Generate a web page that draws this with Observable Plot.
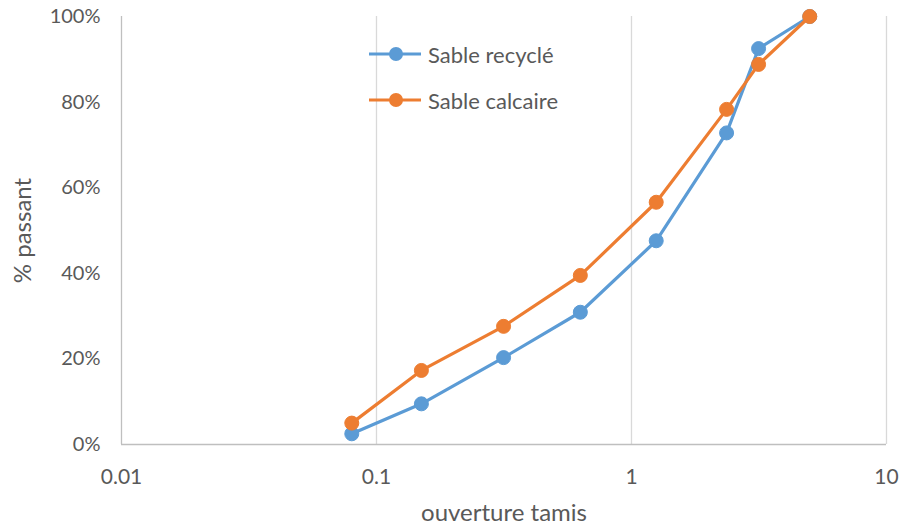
<!DOCTYPE html>
<html>
<head>
<meta charset="utf-8">
<script src="https://cdn.jsdelivr.net/npm/d3@7"></script>
<script src="https://cdn.jsdelivr.net/npm/@observablehq/plot@0.6"></script>
<style>
  html, body { margin: 0; padding: 0; background: #fff; }
  #wrap { position: relative; width: 901px; height: 527px; font-family: Lato, "Open Sans", sans-serif; }
  #legend { position: absolute; left: 368px; top: 31px; font-size: 22px; color: #595959; }
  .item { display: flex; align-items: center; height: 46px; }
  .item svg { margin-right: 6px; }
</style>
</head>
<body>
<div id="wrap"><div id="legend"></div></div>
<script>
const sieves = [0.08, 0.15, 0.315, 0.63, 1.25, 2.36, 3.15, 5];
const sableRecycle = [0.025, 0.095, 0.203, 0.309, 0.476, 0.728, 0.925, 1.0];
const sableCalcaire = [0.050, 0.173, 0.276, 0.395, 0.566, 0.783, 0.888, 1.0];
const seriesNames = ["Sable recyclé", "Sable calcaire"];
const colors = ["#5B9BD5", "#ED7D31"];
const xTicks = [0.01, 0.1, 1, 10];
const xTickLabels = ["0.01", "0.1", "1", "10"];
const yTicks = [0, 0.2, 0.4, 0.6, 0.8, 1.0];

const data = [
  ...sieves.map((s, i) => ({x: s, y: sableRecycle[i], serie: seriesNames[0]})),
  ...sieves.map((s, i) => ({x: s, y: sableCalcaire[i], serie: seriesNames[1]}))
];
const s1 = data.filter(d => d.serie === seriesNames[0]);
const s2 = data.filter(d => d.serie === seriesNames[1]);

const chart = Plot.plot({
  width: 901,
  height: 527,
  marginLeft: 121,
  marginRight: 15,
  marginTop: 16,
  marginBottom: 83,
  style: {fontFamily: "Lato, 'Open Sans', sans-serif", fontSize: "20px", color: "#595959", background: "#fff"},
  x: {type: "log", domain: [0.01, 10]},
  y: {domain: [0, 1]},
  marks: [
    Plot.gridX(xTicks.slice(1), {stroke: "#d9d9d9", strokeOpacity: 1, strokeWidth: 1.3}),
    Plot.ruleX([0.01], {stroke: "#bfbfbf", strokeWidth: 1.3}),
    Plot.ruleY([0], {stroke: "#bfbfbf", strokeWidth: 1.3}),
    Plot.axisX(xTicks, {tickSize: 0, tickPadding: 25, tickFormat: d => xTickLabels[xTicks.indexOf(d)], fontSize: 21, fill: "#595959",
      label: "ouverture tamis", labelAnchor: "center", labelArrow: "none", labelOffset: 76}),
    Plot.axisY(yTicks, {tickSize: 0, tickPadding: 21, tickFormat: d => Math.round(d * 100) + "%", fontSize: 20, fill: "#595959",
      label: "% passant", labelAnchor: "center", labelArrow: "none", labelOffset: 108}),
    Plot.line(s1, {x: "x", y: "y", stroke: colors[0], strokeWidth: 3.2}),
    Plot.dot(s1, {x: "x", y: "y", r: 7, fill: colors[0], stroke: colors[0], strokeWidth: 1}),
    Plot.line(s2, {x: "x", y: "y", stroke: colors[1], strokeWidth: 3.2}),
    Plot.dot(s2, {x: "x", y: "y", r: 7, fill: colors[1], stroke: colors[1], strokeWidth: 1})
  ]
});
chart.querySelectorAll("[aria-label='x-axis label'] text, [aria-label='y-axis label'] text, [aria-label='x-axis label'], [aria-label='y-axis label']").forEach(t => {
  t.setAttribute("font-size", "24");
  t.style.fontSize = "24px";
});
document.getElementById("wrap").prepend(chart);

const legend = document.getElementById("legend");
seriesNames.forEach((name, i) => {
  const item = document.createElement("div");
  item.className = "item";
  item.innerHTML = `<svg width="54" height="16"><line x1="1" x2="53" y1="8" y2="8" stroke="${colors[i]}" stroke-width="3.2"/><circle cx="28" cy="8" r="7" fill="${colors[i]}"/></svg><span>${name}</span>`;
  legend.appendChild(item);
});
</script>
</body>
</html>
